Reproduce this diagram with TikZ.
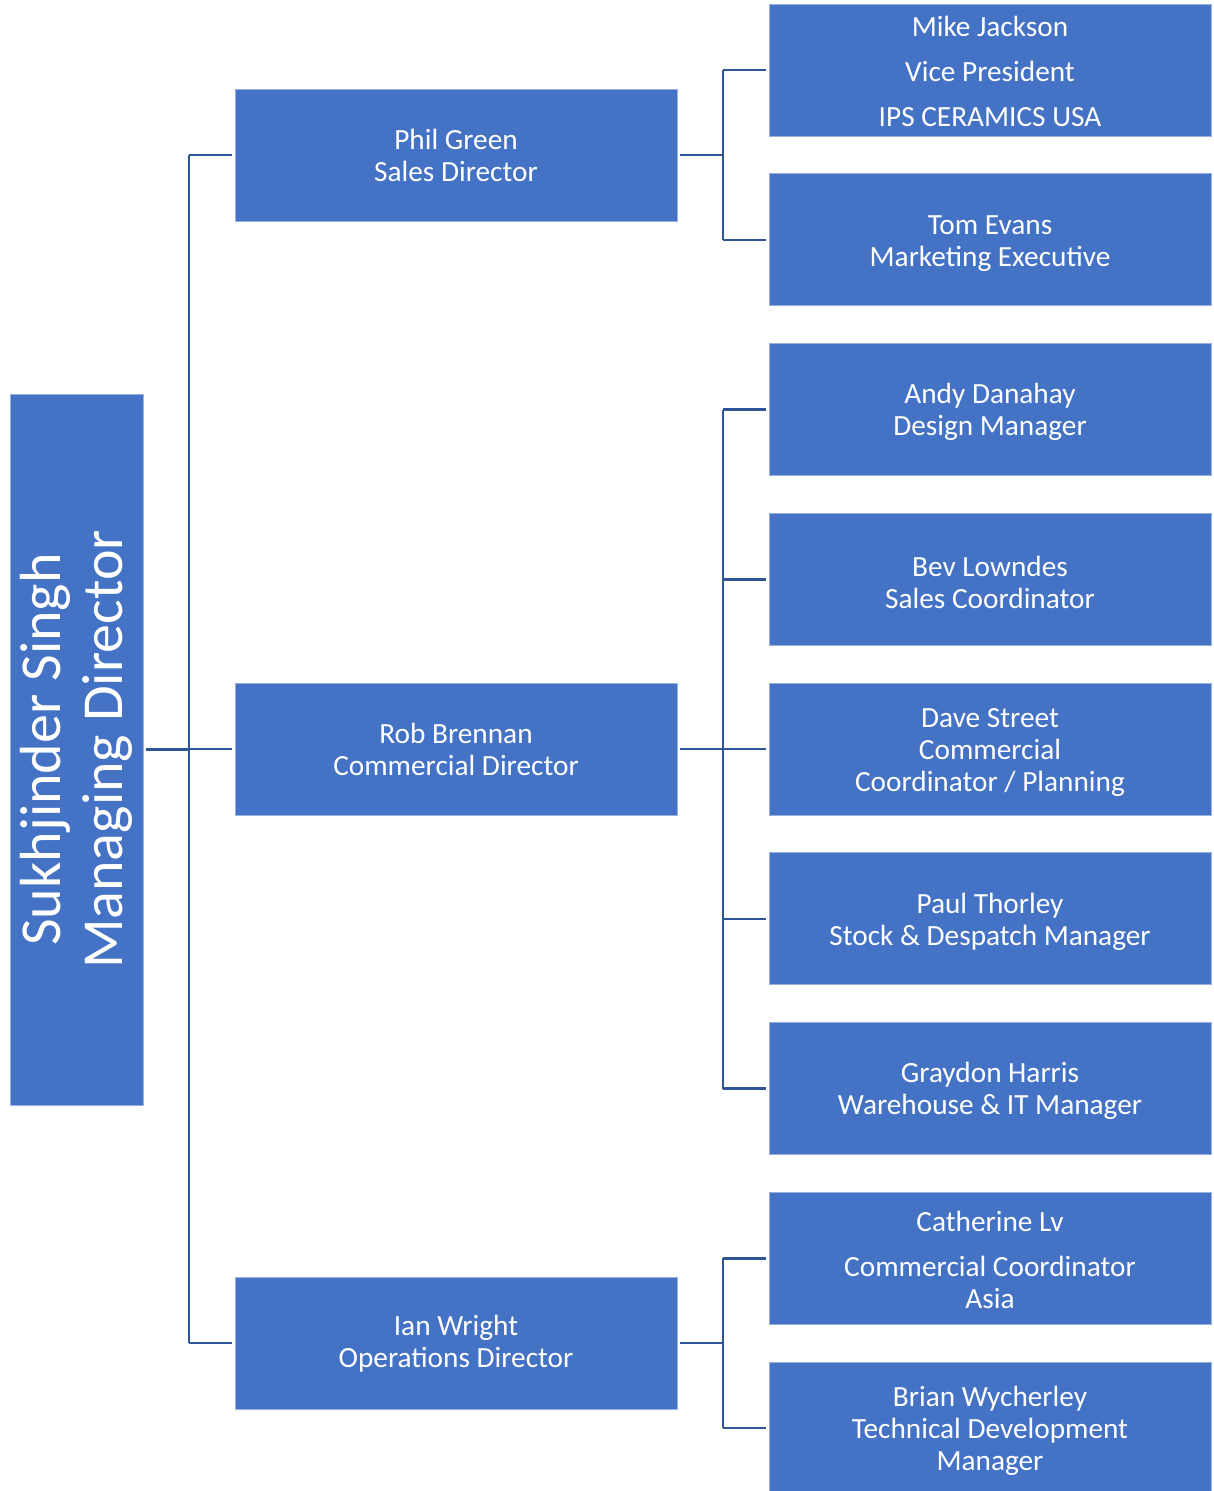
\documentclass[tikz,border=0pt]{standalone}
\usepackage{fontspec}
\setmainfont{Carlito}
\definecolor{boxblue}{HTML}{4472C4}
\definecolor{lineblue}{HTML}{2F5597}
\newcommand\tl{\rule{0pt}{26pt}}
\newcommand\tlb{\rule{0pt}{24pt}}
\newcommand\tlc{\rule{0pt}{22pt}}
\begin{document}
\begin{tikzpicture}[x=1pt,y=-1pt,
  box/.style={rectangle, fill=boxblue, draw=boxblue!55!white, line width=0.8pt,
    minimum width=442pt, minimum height=132pt, inner sep=0pt, text=white,
    align=center, font=\fontsize{29.3}{32}\selectfont},
  mdbox/.style={rectangle, fill=boxblue, draw=boxblue!55!white, line width=0.8pt,
    minimum width=711pt, minimum height=133pt, inner sep=0pt, text=white,
    align=center, rotate=90, font=\fontsize{58}{62}\selectfont},
  conn/.style={draw=lineblue, line width=2.5pt}]
\useasboundingbox (0,0) rectangle (1213,1491);

% top
\node[mdbox] (md) at (76.5,749.5) {Sukhjinder Singh\\Managing Director};

% level 2
\node[box] (phil) at (456,155) {\tlc Phil Green\\Sales Director};
\node[box] (rob) at (456,749) {\tlc Rob Brennan\\Commercial Director};
\node[box] (ian) at (456,1343) {\tlc Ian Wright\\Operations Director};

% level 3
\node[box] (mj) at (990,70) {\tlb Mike Jackson\\[13pt]Vice President\\[13pt]IPS CERAMICS USA};
\node[box] (te) at (990,239.75) {\tl Tom Evans\\Marketing Executive};
\node[box] (ad) at (990,409.5) {\tl Andy Danahay\\Design Manager};
\node[box] (bl) at (990,579.25) {\tl Bev Lowndes\\Sales Coordinator};
\node[box] (ds) at (990,749) {\tl Dave Street\\Commercial\\Coordinator / Planning};
\node[box] (pt) at (990,918.75) {\tl Paul Thorley\\Stock \& Despatch Manager};
\node[box] (gh) at (990,1088.5) {\tl Graydon Harris\\Warehouse \& IT Manager};
\node[box] (cl) at (990,1258.25) {\tlb Catherine Lv\\[13pt]Commercial Coordinator\\Asia};
\node[box] (bw) at (990,1428) {\tl Brian Wycherley\\Technical Development\\Manager};

% buses
\coordinate (bus0) at (189,0);
\coordinate (bus1) at (723,0);

\draw[conn, shorten <=3pt] (md.south) -- (bus0 |- md.south);
\draw[conn] (bus0 |- phil.west) -- (bus0 |- ian.west);
\foreach \n in {phil,rob,ian}
  \draw[conn, shorten >=3pt] (bus0 |- \n.west) -- (\n.west);

\draw[conn, shorten <=3pt] (phil.east) -- (bus1 |- phil.east);
\draw[conn] (bus1 |- mj.west) -- (bus1 |- te.west);
\foreach \n in {mj,te}
  \draw[conn, shorten >=3pt] (bus1 |- \n.west) -- (\n.west);

\draw[conn, shorten <=3pt] (rob.east) -- (bus1 |- rob.east);
\draw[conn] (bus1 |- ad.west) -- (bus1 |- gh.west);
\foreach \n in {ad,bl,ds,pt,gh}
  \draw[conn, shorten >=3pt] (bus1 |- \n.west) -- (\n.west);

\draw[conn, shorten <=3pt] (ian.east) -- (bus1 |- ian.east);
\draw[conn] (bus1 |- cl.west) -- (bus1 |- bw.west);
\foreach \n in {cl,bw}
  \draw[conn, shorten >=3pt] (bus1 |- \n.west) -- (\n.west);
\end{tikzpicture}
\end{document}
